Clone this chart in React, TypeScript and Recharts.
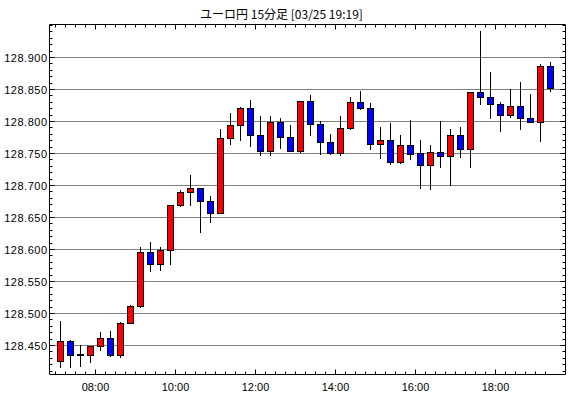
import React from 'react';
import { ComposedChart, Bar, XAxis, YAxis, CartesianGrid } from 'recharts';

// 15-minute candles, 07:00 .. 19:15
const times = [
  '07:00', '07:15', '07:30', '07:45', '08:00', '08:15', '08:30', '08:45',
  '09:00', '09:15', '09:30', '09:45', '10:00', '10:15', '10:30', '10:45',
  '11:00', '11:15', '11:30', '11:45', '12:00', '12:15', '12:30', '12:45',
  '13:00', '13:15', '13:30', '13:45', '14:00', '14:15', '14:30', '14:45',
  '15:00', '15:15', '15:30', '15:45', '16:00', '16:15', '16:30', '16:45',
  '17:00', '17:15', '17:30', '17:45', '18:00', '18:15', '18:30', '18:45',
  '19:00', '19:15',
];

const opens = [
  128.425, 128.457, 128.436, 128.435, 128.448, 128.461, 128.434, 128.484,
  128.511, 128.595, 128.576, 128.598, 128.668, 128.689, 128.695, 128.675,
  128.657, 128.773, 128.793, 128.820, 128.778, 128.753, 128.798, 128.775,
  128.753, 128.832, 128.795, 128.767, 128.750, 128.789, 128.829, 128.820,
  128.764, 128.770, 128.736, 128.762, 128.750, 128.731, 128.751, 128.746,
  128.778, 128.757, 128.845, 128.837, 128.826, 128.809, 128.823, 128.804,
  128.798, 128.886,
];
const highs = [
  128.488, 128.458, 128.451, 128.449, 128.471, 128.473, 128.487, 128.514,
  128.604, 128.611, 128.604, 128.670, 128.693, 128.717, 128.696, 128.683,
  128.788, 128.813, 128.823, 128.833, 128.808, 128.808, 128.806, 128.795,
  128.832, 128.842, 128.801, 128.781, 128.809, 128.838, 128.848, 128.829,
  128.792, 128.798, 128.779, 128.803, 128.771, 128.764, 128.801, 128.788,
  128.792, 128.845, 128.942, 128.878, 128.831, 128.851, 128.862, 128.843,
  128.890, 128.893,
];
const lows = [
  128.415, 128.415, 128.417, 128.423, 128.441, 128.432, 128.430, 128.483,
  128.508, 128.565, 128.566, 128.576, 128.666, 128.668, 128.625, 128.642,
  128.657, 128.763, 128.769, 128.760, 128.746, 128.746, 128.757, 128.752,
  128.750, 128.777, 128.748, 128.748, 128.746, 128.787, 128.818, 128.756,
  128.742, 128.732, 128.734, 128.740, 128.695, 128.693, 128.728, 128.700,
  128.743, 128.728, 128.826, 128.804, 128.784, 128.806, 128.787, 128.798,
  128.768, 128.846,
];
const closes = [
  128.457, 128.434, 128.435, 128.448, 128.461, 128.434, 128.484, 128.511,
  128.595, 128.576, 128.598, 128.668, 128.689, 128.695, 128.675, 128.657,
  128.773, 128.793, 128.820, 128.778, 128.753, 128.798, 128.775, 128.753,
  128.832, 128.795, 128.767, 128.750, 128.789, 128.829, 128.820, 128.764,
  128.771, 128.736, 128.762, 128.748, 128.731, 128.751, 128.746, 128.778,
  128.757, 128.845, 128.837, 128.826, 128.809, 128.823, 128.804, 128.798,
  128.886, 128.851,
];

const xTickLabels = ['08:00', '10:00', '12:00', '14:00', '16:00', '18:00'];
const yTickLabels = ['128.450', '128.500', '128.550', '128.600', '128.650', '128.700', '128.750', '128.800', '128.850', '128.900'];
const title = 'ユーロ円 15分足 [03/25 19:19]';

const data = times.map((t, i) => ({
  idx: i,
  time: t,
  open: opens[i],
  high: highs[i],
  low: lows[i],
  close: closes[i],
  range: [lows[i], highs[i]],
}));

// axis domains (price: 32px per 0.050 so the dotted grid sits on whole pixels)
const pxPerUnit = 640;
const yMax = 128.9 + 33 / pxPerUnit;
const yMin = yMax - 350 / pxPerUnit;
const xDomain = [-1.1, 50.5];

// minor ticks between candles, every 0.010 on price
const xTicks = times.map((_, i) => i - 0.5);
const yTicks: number[] = [];
for (let k = 12841; k <= 12895; k++) yTicks.push(k / 100);
const gridValues = yTickLabels.map(Number);

const FONT = '"Liberation Sans", Arial, sans-serif';

const crisp = (v: number) => Math.round(v - 0.5) + 0.5;

const labelForX = (v: number) => {
  const t = times[Math.round(v + 0.5)];
  return xTickLabels.includes(t) ? t : null;
};
const labelForY = (v: number) => {
  const s = v.toFixed(3);
  return yTickLabels.includes(s) ? s : null;
};

const BottomTick = ({ x, y, payload }: any) => {
  const label = labelForX(payload.value);
  const cx = crisp(x);
  return (
    <g>
      <line x1={cx} x2={cx} y1={y} y2={y - (label ? 5 : 3)} stroke="#000" />
      {label && (
        <text x={cx} y={y + 16.5} textAnchor="middle" fontSize={11} fontFamily={FONT} fill="#000">
          {label}
        </text>
      )}
    </g>
  );
};

const TopTick = ({ x, y, payload }: any) => {
  const label = labelForX(payload.value);
  const cx = crisp(x);
  return <line x1={cx} x2={cx} y1={y} y2={y + (label ? 5 : 3)} stroke="#000" />;
};

const LeftTick = ({ x, y, payload }: any) => {
  const label = labelForY(payload.value);
  const cy = crisp(y);
  return (
    <g>
      <line x1={x} x2={x + (label ? 5 : 3)} y1={cy} y2={cy} stroke="#000" />
      {label && (
        <text x={x - 2} y={cy + 4} textAnchor="end" fontSize={11} letterSpacing={0.5} fontFamily={FONT} fill="#000">
          {label}
        </text>
      )}
    </g>
  );
};

const RightTick = ({ x, y, payload }: any) => {
  const label = labelForY(payload.value);
  const cy = crisp(y);
  return <line x1={x} x2={x - (label ? 5 : 3)} y1={cy} y2={cy} stroke="#000" />;
};

// candle drawn from the [low, high] bar the library positions
const Candle = (props: any) => {
  const { x, y, width, height, payload } = props;
  if (payload == null || !isFinite(y) || !isFinite(height)) return null;
  const { open, close, high, low } = payload;
  const top = Math.min(y, y + height);
  const h = Math.abs(height);
  const py = (v: number) => top + ((high - v) / (high - low)) * h;
  const cx = crisp(x + width / 2);
  const up = close >= open;
  const bTop = Math.floor(py(Math.max(open, close))) + 0.5;
  let bBot = Math.floor(py(Math.min(open, close))) + 0.5;
  if (bBot - bTop < 1) bBot = bTop + 1;
  return (
    <g>
      <line x1={cx} x2={cx} y1={Math.round(py(high))} y2={Math.round(py(low))} stroke="#000" strokeWidth={1} />
      <rect
        x={cx - 3}
        y={bTop}
        width={6}
        height={bBot - bTop}
        fill={up ? '#ff0000' : '#0000ff'}
        stroke="#000"
        strokeWidth={1}
      />
    </g>
  );
};

export default function App() {
  return (
    <div style={{ position: 'absolute', left: 0, top: 0, width: 570, height: 398, background: '#fff' }}>
      <ComposedChart width={570} height={398} data={data} margin={{ top: 0, right: 0, bottom: 0, left: 0 }}>
        <CartesianGrid
          horizontal
          vertical={false}
          horizontalValues={gridValues}
          stroke="#000"
          strokeDasharray="1 1"
        />
        <XAxis
          dataKey="idx"
          type="number"
          domain={xDomain}
          allowDataOverflow
          ticks={xTicks}
          interval={0}
          height={23.5}
          tickSize={0}
          tickMargin={0}
          tickLine={false}
          tick={<BottomTick />}
          axisLine={{ stroke: '#000' }}
        />
        <XAxis
          xAxisId="t"
          orientation="top"
          dataKey="idx"
          type="number"
          domain={xDomain}
          allowDataOverflow
          ticks={xTicks}
          interval={0}
          height={24.5}
          tickSize={0}
          tickMargin={0}
          tickLine={false}
          tick={<TopTick />}
          axisLine={{ stroke: '#000' }}
        />
        <YAxis
          type="number"
          domain={[yMin, yMax]}
          allowDataOverflow
          ticks={yTicks}
          interval={0}
          width={49.5}
          tickSize={0}
          tickMargin={0}
          tickLine={false}
          tick={<LeftTick />}
          axisLine={{ stroke: '#000' }}
        />
        <YAxis
          yAxisId="r"
          orientation="right"
          type="number"
          domain={[yMin, yMax]}
          allowDataOverflow
          ticks={yTicks}
          interval={0}
          width={4.5}
          tickSize={0}
          tickMargin={0}
          tickLine={false}
          tick={<RightTick />}
          axisLine={{ stroke: '#000' }}
        />
        <Bar dataKey="range" barSize={7} shape={<Candle />} isAnimationActive={false} />
      </ComposedChart>
      <svg width={570} height={30} style={{ position: 'absolute', left: 0, top: 0 }}>
        <text x={281.5} y={18.5} textAnchor="middle" fontSize={12} fontFamily='"Noto Sans CJK JP", sans-serif' fill="#000">
          {title}
        </text>
      </svg>
    </div>
  );
}
